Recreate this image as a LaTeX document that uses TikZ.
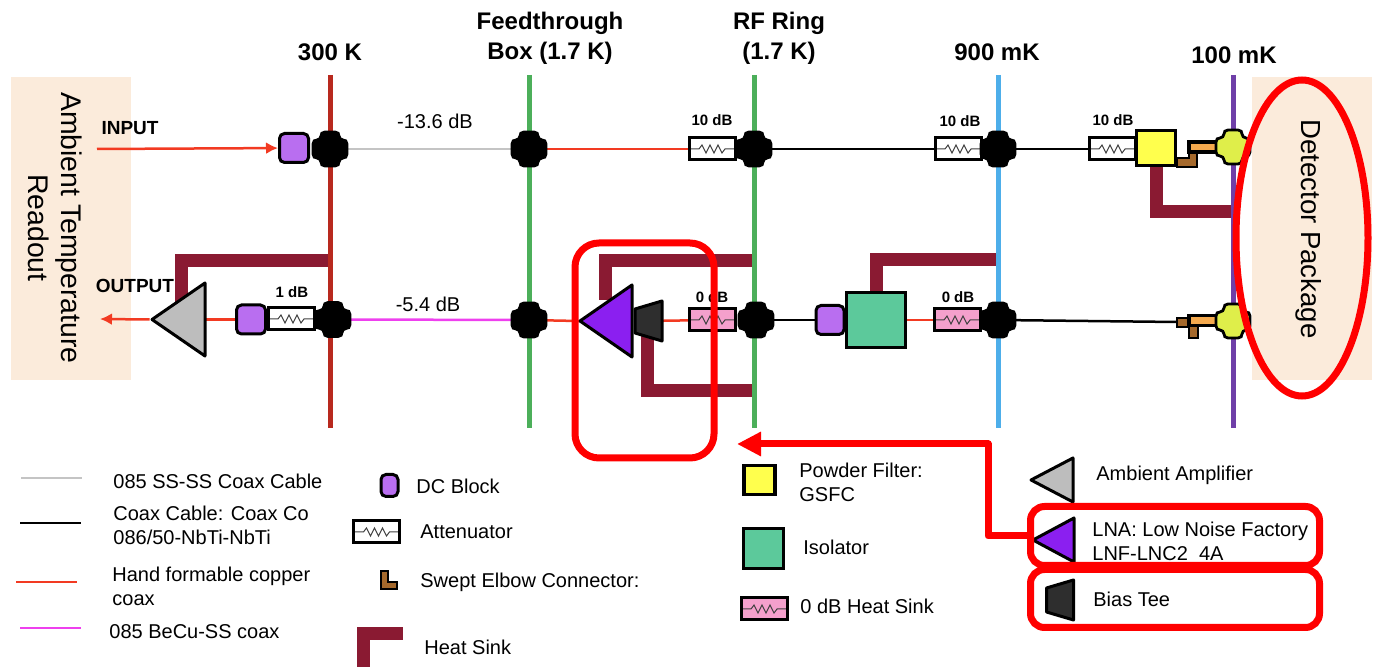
\documentclass[tikz,border=0pt]{standalone}
\usepackage{fontspec}
\setmainfont{Liberation Sans}
\usetikzlibrary{arrows.meta,backgrounds,shapes.geometric}

\definecolor{tanbg}{HTML}{FBEBDB}
\definecolor{railred}{HTML}{B8291E}
\definecolor{railgreen}{HTML}{4CAF5A}
\definecolor{railblue}{HTML}{4DAEEA}
\definecolor{railpurple}{HTML}{6F3FA8}
\definecolor{sinkred}{HTML}{8A1A32}
\definecolor{coaxred}{HTML}{F23A22}
\definecolor{coaxgray}{HTML}{C4C4C4}
\definecolor{coaxpink}{HTML}{EE40EE}
\definecolor{dcpurple}{HTML}{B96EF0}
\definecolor{lnapurple}{HTML}{8B1FF0}
\definecolor{ampgray}{HTML}{BDBDBD}
\definecolor{teedark}{HTML}{2E2E2E}
\definecolor{isogreen}{HTML}{5CC99B}
\definecolor{filteryellow}{HTML}{FFFF4D}
\definecolor{sinkpink}{HTML}{F4A0CC}
\definecolor{lime}{HTML}{DFEE4A}
\definecolor{elbowbrown}{HTML}{A5692C}
\definecolor{orangepart}{HTML}{F4A94E}

\tikzset{
  bgbox/.style={fill=tanbg, draw=none, minimum width=60pt, minimum height=151.5pt, inner sep=0},
  rail/.style={line width=2.5pt, draw=#1},
  sink/.style={line width=6.5pt, draw=sinkred},
  coax/.style={line width=1.25pt, draw=#1, shorten <=-1pt, shorten >=-1pt},
  alert/.style={rectangle, draw=red, line width=3.5pt, rounded corners=#1, inner sep=0},
  junction/.style={rectangle, inner sep=0, minimum size=19.5pt, path picture={
      \draw[fill=#1, draw=black, line width=1.4pt, shift={(path picture bounding box.center)}]
        (-5,-17) -- (5,-17) .. controls (8,-17) and (9,-15) .. (9,-13) .. controls (9,-11) and (11,-9) .. (13,-9) .. controls (15,-9) and (17,-8) .. (17,-5)
        -- (17,5) .. controls (17,8) and (15,9) .. (13,9) .. controls (11,9) and (9,11) .. (9,13) .. controls (9,15) and (8,17) .. (5,17)
        -- (-5,17) .. controls (-8,17) and (-9,15) .. (-9,13) .. controls (-9,11) and (-11,9) .. (-13,9) .. controls (-15,9) and (-17,8) .. (-17,5)
        -- (-17,-5) .. controls (-17,-8) and (-15,-9) .. (-13,-9) .. controls (-11,-9) and (-9,-11) .. (-9,-13) .. controls (-9,-15) and (-8,-17) .. (-5,-17) -- cycle;}},
  dcbox/.style 2 args={rectangle, draw=black, fill=dcpurple, line width=1.5pt, rounded corners=2.5pt, inner sep=0, minimum width=#1, minimum height=#2},
  partbox/.style n args={3}{rectangle, draw=black, fill=#3, line width=1.75pt, inner sep=0, minimum width=#1, minimum height=#2},
  attbox/.style={rectangle, draw=black, fill=#1, line width=1.5pt, inner sep=0, minimum width=23pt, minimum height=11pt, path picture={
      \draw[line width=.5pt, draw=black!75, shift={(path picture bounding box.center)}]
        (-23,0) -- (-13,0) -- (-10,-4) -- (-6,4) -- (-2,-4) -- (2,4) -- (6,-4) -- (10,4) -- (13,0) -- (23,0);}},
  tribox/.style n args={3}{rectangle, inner sep=0, minimum width=#1, minimum height=#2, path picture={
      \draw[fill=#3, draw=black, line width=1.5pt, line join=round]
        ([xshift=1pt]path picture bounding box.west) -- ([xshift=-1pt, yshift=-1pt]path picture bounding box.north east) -- ([xshift=-1pt, yshift=1pt]path picture bounding box.south east) -- cycle;}},
  teebox/.style={rectangle, inner sep=0, minimum width=15.5pt, minimum height=22pt, path picture={
      \draw[fill=teedark, draw=black, line width=1.5pt, line join=round, shift={(path picture bounding box.center)}]
        (-13.5,-12) -- (13.5,-20) -- (13.5,20) -- (-13.5,12) -- cycle;}},
  elbow/.style={fill=elbowbrown, draw=black, line width=1.25pt},
  hdr/.style={font=\fontsize{12}{15}\selectfont\bfseries, inner sep=0},
  dbtag/.style={font=\fontsize{7.5}{9}\selectfont\bfseries, inner sep=0},
  loss/.style={font=\fontsize{10}{12}\selectfont, inner sep=0},
  portlabel/.style={font=\fontsize{9.5}{12}\selectfont\bfseries, inner sep=0},
  legendtext/.style={font=\fontsize{10}{12}\selectfont, anchor=west, align=left, inner sep=0}
}

\begin{document}
\begin{tikzpicture}[x=.5pt, y=-.5pt]
  \useasboundingbox (0,0) rectangle (1373,667);

  \node (ambient) at (71,228.5) [bgbox] {};
  \node (detector) at (1312,228.5) [bgbox] {};
  \node (ambientlabel) at (55,228) [rotate=-90, align=center, inner sep=0, font=\fontsize{14.2}{16.5}\selectfont] {Ambient Temperature\\Readout};
  \node (detectorlabel) at (1309,229) [rotate=-90, inner sep=0, font=\fontsize{13.8}{16}\selectfont] {Detector Package};

  \node (hdrwarm) at (330,52) [hdr] {300 K};
  \node (hdrfeed) at (550,38) [hdr, align=center] {Feedthrough\\Box (1.7 K)};
  \node (hdrring) at (779,38) [hdr, align=center] {RF Ring\\(1.7 K)};
  \node (hdrstill) at (997,52) [hdr] {900 mK};
  \node (hdrcold) at (1234,55) [hdr] {100 mK};

  \node (inputlabel) at (130,128) [portlabel] {INPUT};
  \node (outputlabel) at (135,286) [portlabel] {OUTPUT};
  \node (lossin) at (435,121) [loss] {-13.6 dB};
  \node (lossout) at (428,304) [loss] {-5.4 dB};

  \draw[elbow] (1177,158) -- (1189,158) -- (1189,152) -- (1197,152) -- (1197,167) -- (1177,167) -- cycle;
  \draw[elbow] (1177,318) -- (1198,318) -- (1198,338) -- (1189,338) -- (1189,327) -- (1177,327) -- cycle;

  \coordinate (inputstart) at (97,149);
  \node (dcin) at (294,148) [dcbox={14.5pt}{14.5pt}] {};
  \node (jinA) at (330,149) [junction=black] {};
  \node (jinB) at (529,149) [junction=black] {};
  \node (attinA) at (712,149) [attbox=white] {};
  \node (tagA) at (712,120) [dbtag] {10 dB};
  \node (jinC) at (754,149) [junction=black] {};
  \node (attinB) at (958,149) [attbox=white] {};
  \node (tagB) at (960,121) [dbtag] {10 dB};
  \node (jinD) at (998,149) [junction=black] {};
  \node (attinC) at (1112,149) [attbox=white] {};
  \node (tagC) at (1113,120) [dbtag] {10 dB};
  \node (pfilter) at (1156,148) [partbox={19.5pt}{17.5pt}{filteryellow}] {};
  \node (optin) at (1203,147) [partbox={14pt}{5pt}{orangepart}] {};
  \node (jinE) at (1233,147) [junction=lime] {};

  \coordinate (outputend) at (100,319);
  \node (amp) at (178.5,319.5) [tribox={28.5pt}{38.5pt}{ampgray}] {};
  \node (dcout) at (251,319.5) [dcbox={14.5pt}{14.5pt}] {};
  \node (attoutA) at (291,319) [attbox=white] {};
  \node (tagD) at (292,292) [dbtag] {1 dB};
  \node (joutA) at (333,319.5) [junction=black] {};
  \node (joutB) at (529,320) [junction=black] {};
  \node (lna) at (606,321) [tribox={28pt}{38pt}{lnapurple}] {};
  \node (biastee) at (648.5,321) [teebox] {};
  \node (attoutB) at (712,320) [attbox=sinkpink] {};
  \node (tagE) at (712,297) [dbtag] {0 dB};
  \node (joutC) at (756,320) [junction=black] {};
  \node (dciso) at (830,320) [dcbox={14pt}{14.5pt}] {};
  \node (isolator) at (876,320) [partbox={29.5pt}{27.5pt}{isogreen}] {};
  \node (attoutC) at (957,320) [attbox=sinkpink] {};
  \node (tagF) at (958,297) [dbtag] {0 dB};
  \node (joutD) at (998,320) [junction=black] {};
  \coordinate (elbowin) at (1177,322);
  \node (optout) at (1203,320.5) [partbox={14pt}{5pt}{orangepart}] {};
  \node (joutE) at (1233,321) [junction=lime] {};

  \begin{pgfonlayer}{background}
    \draw[rail=railred] (330,75) coordinate (warmtop) -- (330,428) coordinate (warmbot);
    \draw[rail=railgreen] (529,75) coordinate (feedtop) -- (529,428) coordinate (feedbot);
    \draw[rail=railgreen] (754,75) coordinate (ringtop) -- (754,428) coordinate (ringbot);
    \draw[rail=railblue] (998,75) coordinate (stilltop) -- (998,428) coordinate (stillbot);
    \draw[rail=railpurple] (1233,75) coordinate (coldtop) -- (1233,428) coordinate (coldbot);

    \coordinate (sinkA) at (1231,212);
    \coordinate (sinkB) at (328,261);
    \coordinate (sinkBin) at (181,305);
    \coordinate (sinkC) at (752,261);
    \coordinate (sinkCin) at (605,300);
    \coordinate (sinkD) at (752,391);
    \coordinate (sinkDin) at (647,335);
    \coordinate (sinkE) at (996,260);
    \draw[sink] (pfilter.south) |- (sinkA);
    \draw[sink] (sinkBin) |- (sinkB);
    \draw[sink] (sinkCin) |- (sinkC);
    \draw[sink] (sinkDin) |- (sinkD);
    \draw[sink] (isolator.north) |- (sinkE);

    \draw[coax=coaxgray] (jinA) -- (jinB);
    \draw[coax=coaxred] (jinB) -- (attinA);
    \draw[coax=black] (jinC) -- (attinB);
    \draw[coax=black] (jinD) -- (attinC);
    \draw[coax=coaxpink] (joutA) -- (joutB);
    \draw[coax=coaxred] (joutB) -- (lna.west);
    \draw[coax=coaxred] (biastee) -- (attoutB);
    \draw[coax=black] (joutC) -- (dciso);
    \draw[coax=coaxred] (isolator) -- (attoutC);
    \draw[coax=black] (joutD) -- (elbowin);
    \draw[coax=coaxred] (amp.east) -- (dcout);
  \end{pgfonlayer}

  \draw[coaxred, line width=1.25pt, -{Latex[length=6pt, width=6pt]}] (inputstart) -- (dcin);
  \draw[coaxred, line width=1.25pt, -{Latex[length=6pt, width=6pt]}] (amp.west) -- (outputend);

  \draw[coax=coaxgray] (23,478) coordinate (legA) -- (80,478) coordinate (legAend);
  \node (legAtext) at (113,481) [legendtext] {085 SS-SS Coax Cable};
  \draw[coax=black] (22,523) coordinate (legB) -- (79,523) coordinate (legBend);
  \node (legBtext) at (113,525) [legendtext] {Coax Cable: Coax Co\\086/50-NbTi-NbTi};
  \draw[coax=coaxred] (18,582) coordinate (legC) -- (75,582) coordinate (legCend);
  \node (legCtext) at (112,586) [legendtext] {Hand formable copper\\coax};
  \draw[coax=coaxpink] (22,628) coordinate (legD) -- (79,628) coordinate (legDend);
  \node (legDtext) at (109,632) [legendtext] {085 BeCu-SS coax};

  \node (legdc) at (389.5,485.5) [dcbox={8.5pt}{11pt}] {};
  \node (legdctext) at (416,486) [legendtext] {DC Block};
  \node (legatt) at (376.5,532) [attbox=white] {};
  \node (legatttext) at (420,532) [legendtext] {Attenuator};
  \draw[elbow] (381,571) -- (388,571) -- (388,582) -- (397,582) -- (397,589) -- (381,589) -- cycle;
  \node (legelbowtext) at (420,582) [legendtext] {Swept Elbow Connector:};
  \draw[sink] (363,667) coordinate (legsink) |- (403,634) coordinate (legsinkend);
  \node (legsinktext) at (424,647) [legendtext] {Heat Sink};

  \node (legfilter) at (759.5,480) [partbox={15.5pt}{14.5pt}{filteryellow}] {};
  \node (legfiltertext) at (799,482) [legendtext] {Powder Filter:\\GSFC};
  \node (legiso) at (763.5,548.5) [partbox={20pt}{20pt}{isogreen}] {};
  \node (legisotext) at (803,547) [legendtext] {Isolator};
  \node (legpink) at (764,609) [attbox=sinkpink] {};
  \node (legpinktext) at (800,606) [legendtext] {0 dB Heat Sink};

  \node (legamp) at (1052,480) [tribox={23pt}{24pt}{ampgray}] {};
  \node (legamptext) at (1096,475) [legendtext] {Ambient Amplifier};
  \node (leglna) at (1053.5,540) [tribox={22.5pt}{24pt}{lnapurple}] {};
  \node (leglnatext) at (1092,543) [legendtext] {LNA: Low Noise Factory\\LNF-LNC2\_4A};
  \node (legtee) at (1060,600) [teebox] {};
  \node (legteetext) at (1093,599) [legendtext] {Bias Tee};

  \node (focus) at (644.5,350.5) [alert=12pt, minimum width=69.5pt, minimum height=107.5pt] {};
  \node (lnaframe) at (1175,536) [alert=7pt, minimum width=144.5pt, minimum height=29.5pt] {};
  \node (teeframe) at (1175,598.5) [alert=7pt, minimum width=144.5pt, minimum height=29pt] {};
  \node (detectoring) at (1302,238) [ellipse, draw=red, line width=3.5pt, minimum width=66pt, minimum height=158pt, inner sep=0] {};
  \coordinate (arrowbend) at (988,444);
  \coordinate (arrowtip) at (737,444);
  \draw[red, line width=3.5pt, line join=round, -{Triangle[length=12pt, width=11.5pt]}] (lnaframe.west) -| (arrowbend) -- (arrowtip);
\end{tikzpicture}
\end{document}
